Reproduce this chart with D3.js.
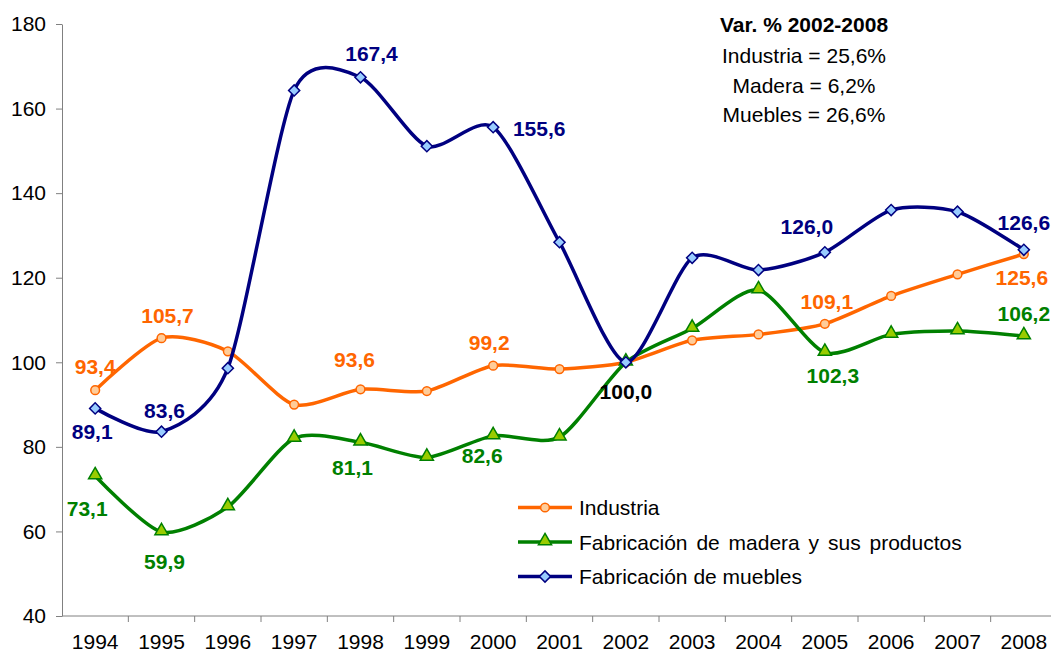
<!DOCTYPE html>
<html>
<head>
<meta charset="utf-8">
<script src="https://cdn.jsdelivr.net/npm/d3@7"></script>
<style>
  body { margin: 0; background: #fff; }
  svg { display: block; font-family: "Liberation Sans", Arial, sans-serif; }
  .axis path, .axis line { stroke: #808080; }
  .axis text { font-size: 21px; fill: #000; }
</style>
</head>
<body>
<div id="chart"></div>
<script>
// years on the x axis
var years = ["1994","1995","1996","1997","1998","1999","2000","2001","2002","2003","2004","2005","2006","2007","2008"];

// series values (index 2002 = 100)
var industria = [93.4, 105.7, 102.6, 90.0, 93.6, 93.2, 99.2, 98.4, 100.0, 105.2, 106.6, 109.1, 115.7, 120.8, 125.6];
var madera    = [73.1, 59.9, 65.8, 82.0, 81.1, 77.5, 82.6, 82.3, 100.0, 108.0, 117.1, 102.3, 106.6, 107.4, 106.2];
var muebles   = [89.1, 83.6, 98.6, 164.3, 167.4, 151.1, 155.6, 128.4, 100.0, 124.7, 121.8, 126.0, 136.0, 135.6, 126.6];

var yTicks = [40, 60, 80, 100, 120, 140, 160, 180];

var noteTitle = "Var. % 2002-2008";
var noteLines = ["Industria = 25,6%", "Madera = 6,2%", "Muebles = 26,6%"];

// which points carry a data label, and where the label sits relative to the point
var industriaLabels = [[0, 0, -24], [1, 6, -23], [4, -6, -30], [6, -4, -23], [11, 2, -22], [14, -2, 23]];
var maderaLabels    = [[0, -8, 32], [1, 3, 30], [4, -8, 25], [6, -11, 20], [8, 0, 29], [11, 8, 23], [14, 0, -23]];
var mueblesLabels   = [[0, -3, 23], [1, 3, -21], [4, 11, -24], [6, 46, 1], [11, -18, -26], [14, 0, -27]];

var series = [
  {name: "Industria", values: industria, labels: industriaLabels,
   color: "#FF6600", fill: "#FFCC99", symbol: "circle"},
  {name: "Fabricación de madera y sus productos", values: madera, labels: maderaLabels,
   color: "#008000", fill: "#99CC00", symbol: "triangle"},
  {name: "Fabricación de muebles", values: muebles, labels: mueblesLabels,
   color: "#000080", fill: "#99CCFF", symbol: "diamond"}
];

var width = 1051, height = 657;
var margin = {top: 24, left: 62, bottom: 41};

var svg = d3.select("#chart").append("svg")
    .attr("width", width)
    .attr("height", height);

var x = d3.scaleBand()
    .domain(years)
    .range([margin.left, 1057]);

var y = d3.scaleLinear()
    .domain([40, 180])
    .range([height - margin.bottom, margin.top]);

// y axis
var yAxis = d3.axisLeft(y)
    .tickValues(yTicks)
    .tickSize(6)
    .tickSizeOuter(0)
    .tickPadding(10);
svg.append("g")
    .attr("class", "axis y-axis")
    .attr("transform", "translate(" + margin.left + ",0)")
    .call(yAxis);

// x axis: labels centred in each band, tick marks on the band edges
var xAxis = d3.axisBottom(x)
    .tickSize(0)
    .tickSizeOuter(0)
    .tickPadding(18);
var gx = svg.append("g")
    .attr("class", "axis x-axis")
    .attr("transform", "translate(0," + y(40) + ")")
    .call(xAxis);
gx.select(".domain").attr("d", "M" + margin.left + ",0H" + width);
gx.selectAll("line.edge")
    .data(years.slice(1))
    .enter()
    .append("line")
    .attr("class", "edge")
    .attr("x1", function(d) { return x(d); })
    .attr("x2", function(d) { return x(d); })
    .attr("y1", 0)
    .attr("y2", 6);

var line = d3.line()
    .x(function(d, i) { return x(years[i]) + x.bandwidth() / 2; })
    .y(function(d) { return y(d); })
    .curve(d3.curveCardinal.tension(0.25));

var symbols = {
  circle: d3.symbol().type(d3.symbolCircle).size(60),
  triangle: d3.symbol().type(d3.symbolTriangle).size(75),
  diamond: d3.symbol().type(d3.symbolSquare).size(62)
};

series.forEach(function(s) {
  svg.append("path")
      .datum(s.values)
      .attr("d", line)
      .attr("fill", "none")
      .attr("stroke", s.color)
      .attr("stroke-width", 3.5)
      .attr("stroke-linejoin", "round");

  svg.selectAll("path.mk-" + s.symbol)
      .data(s.values)
      .enter()
      .append("path")
      .attr("class", "mk-" + s.symbol)
      .attr("d", symbols[s.symbol])
      .attr("transform", function(d, i) {
        var t = "translate(" + (x(years[i]) + x.bandwidth() / 2) + "," + y(d) + ")";
        if (s.symbol === "diamond") t += " rotate(45)";
        if (s.symbol === "triangle") t += " translate(0,-1)";
        return t;
      })
      .attr("fill", s.fill)
      .attr("stroke", s.color)
      .attr("stroke-width", 1.5);
});

// data labels
series.forEach(function(s) {
  svg.selectAll("text.lb-" + s.symbol)
      .data(s.labels)
      .enter()
      .append("text")
      .attr("class", "lb-" + s.symbol)
      .attr("x", function(d) { return x(years[d[0]]) + x.bandwidth() / 2 + d[1]; })
      .attr("y", function(d) { return y(s.values[d[0]]) + d[2]; })
      .attr("text-anchor", "middle")
      .attr("dominant-baseline", "central")
      .style("font-size", "21px")
      .style("font-weight", "bold")
      .attr("fill", function(d) { return years[d[0]] === "2002" ? "#000" : s.color; })
      .text(function(d) { return s.values[d[0]].toFixed(1).replace(".", ","); });
});

// note box
var note = svg.append("g")
    .attr("transform", "translate(804,0)")
    .attr("text-anchor", "middle");
note.append("text")
    .attr("y", 32)
    .style("font-size", "21px")
    .style("font-weight", "bold")
    .text(noteTitle);
note.selectAll("text.line")
    .data(noteLines)
    .enter()
    .append("text")
    .attr("class", "line")
    .attr("y", function(d, i) { return 63 + i * 29.5; })
    .style("font-size", "21px")
    .text(function(d) { return d; });

// legend
var legend = svg.append("g")
    .attr("transform", "translate(518,507.5)");
var row = legend.selectAll("g")
    .data(series)
    .enter()
    .append("g")
    .attr("transform", function(d, i) { return "translate(0," + (i * 34.5) + ")"; });
row.append("line")
    .attr("x1", 0)
    .attr("x2", 54)
    .attr("stroke", function(d) { return d.color; })
    .attr("stroke-width", 3.5);
row.append("path")
    .attr("d", function(d) { return symbols[d.symbol](); })
    .attr("transform", function(d) {
      return "translate(27,0)" + (d.symbol === "diamond" ? " rotate(45)" : "") +
        (d.symbol === "triangle" ? " translate(0,-1)" : "");
    })
    .attr("fill", function(d) { return d.fill; })
    .attr("stroke", function(d) { return d.color; })
    .attr("stroke-width", 1.5);
row.append("text")
    .attr("x", 61)
    .attr("dominant-baseline", "central")
    .style("font-size", "21px")
    .style("word-spacing", function(d) { return d.symbol === "triangle" ? "3px" : null; })
    .text(function(d) { return d.name; });
</script>
</body>
</html>
